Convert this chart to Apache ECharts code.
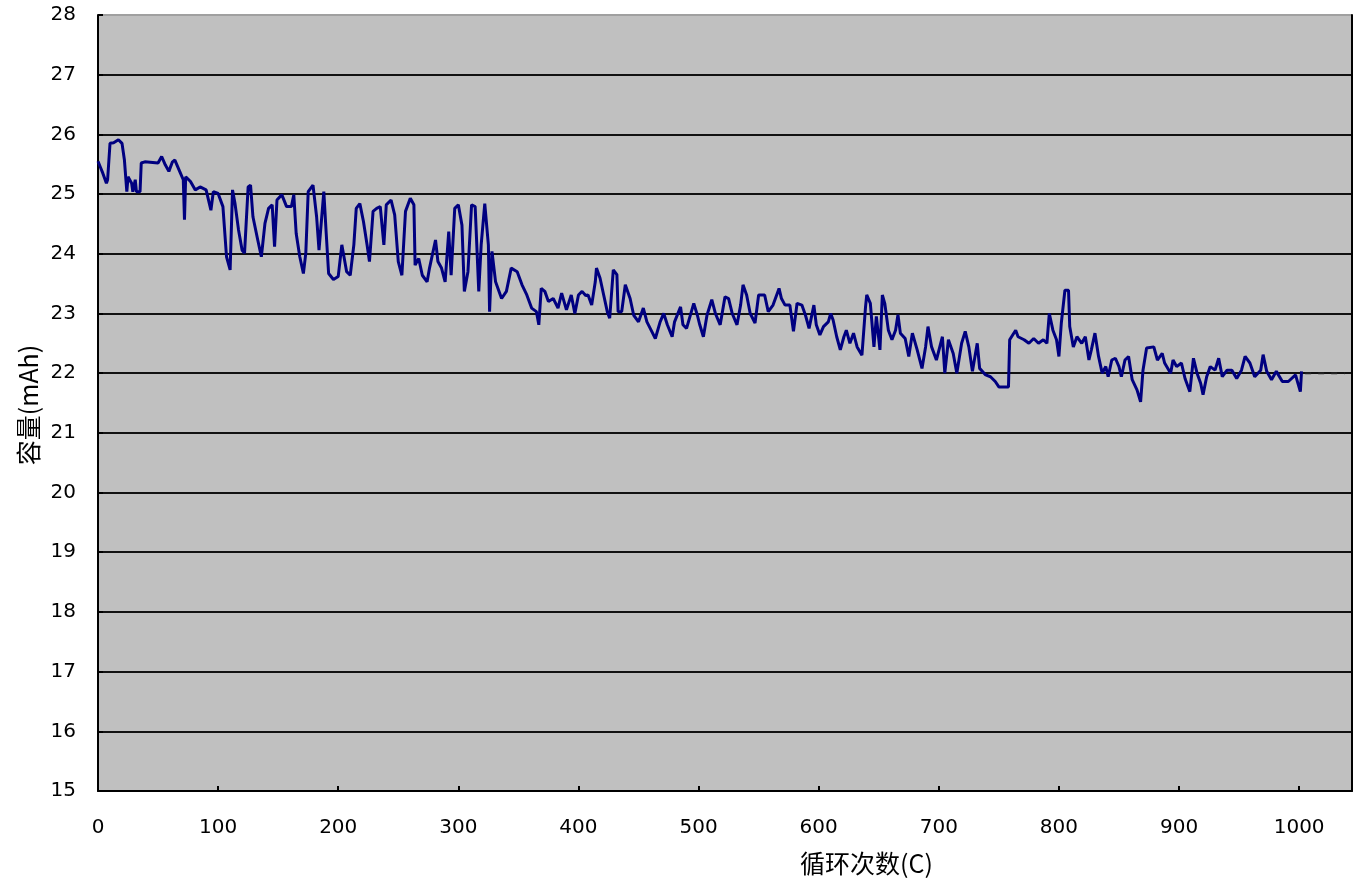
<!DOCTYPE html>
<html>
<head>
<meta charset="utf-8">
<script src="https://cdn.jsdelivr.net/npm/echarts@6/dist/echarts.min.js"></script>
<style>html,body{margin:0;padding:0;background:#fff}#c{width:1356px;height:883px}</style>
</head>
<body>
<div id="c"></div>
<script>
const cycles = [0,2,4,7,8,10,13,17,20,22,24,25,28,29,31,32,35,36,39,50,53,56,59,62,64,68,71,72,73,77,81,85,90,94,96,100,104,107,110,112,114,117,120,122,125,127,129,133,136,139,142,145,147,149,153,157,161,163,165,168,171,173,175,179,182,184,188,190,192,196,200,203,
207,210,213,215,218,221,224,226,229,232,235,238,240,244,247,250,253,256,260,263,264,267,270,274,276,281,283,286,289,292,294,297,300,303,305,308,311,314,317,319,322,325,326,328,331,333,336,340,344,349,353,357,361,365,367,369,372,375,379,383,386,390,394,397,400,403,
406,408,411,414,415,418,421,424,426,429,432,433,436,439,443,446,450,454,457,461,464,468,471,474,478,480,485,487,490,496,499,501,504,507,511,514,518,522,525,528,532,535,537,540,543,547,550,555,558,562,567,569,572,576,579,582,586,589,592,596,598,601,604,608,
610,612,615,618,621,623,626,629,632,636,639,640,643,646,648,651,653,655,658,661,664,666,668,672,675,678,682,686,689,691,694,698,703,705,708,712,715,719,722,725,728,732,734,739,743,747,750,758,759,764,766,771,775,779,783,787,790,792,795,798,800,802,805,808,809,812,815,
819,822,825,827,830,833,836,839,841,844,847,850,852,855,858,861,865,868,870,873,879,882,886,888,893,895,898,902,905,909,912,915,918,920,923,926,930,933,936,940,944,948,952,955,959,963,968,970,973,977,981,986,991,997,999,1001,1002];
const capacity = [25.55,25.45,25.35,25.18,25.24,25.85,25.86,25.91,25.85,25.57,25.04,25.29,25.18,25.04,25.24,25.04,25.04,25.52,25.54,25.52,25.63,25.49,25.38,25.54,25.57,25.38,25.24,24.57,25.29,25.21,25.07,25.12,25.07,24.73,25.04,25.01,24.79,23.95,23.73,25.07,24.85,24.40,24.06,24.01,25.12,25.15,24.62,24.23,23.95,24.51,24.76,24.82,24.12,24.90,24.99,24.79,24.79,24.99,24.34,23.95,23.67,24.01,25.04,25.15,24.62,24.06,25.04,24.34,23.67,23.57,23.62,24.15,
23.70,23.64,24.15,24.76,24.84,24.54,24.15,23.87,24.71,24.76,24.79,24.15,24.82,24.90,24.65,23.87,23.64,24.71,24.93,24.82,23.81,23.92,23.64,23.53,23.76,24.23,23.87,23.76,23.53,24.37,23.64,24.76,24.82,24.48,23.37,23.70,24.82,24.79,23.37,24.15,24.84,24.15,23.03,24.04,23.53,23.42,23.25,23.37,23.76,23.70,23.48,23.31,23.09,23.03,22.81,23.42,23.37,23.20,23.25,23.09,23.34,23.06,23.31,23.00,23.31,23.37,
23.30,23.31,23.14,23.53,23.76,23.59,23.31,23.03,22.92,23.73,23.65,23.03,23.03,23.48,23.25,22.97,22.86,23.09,22.86,22.70,22.58,22.86,23.00,22.81,22.61,22.86,23.11,22.81,22.75,23.17,22.97,22.81,22.61,22.97,23.23,23.00,22.81,23.28,23.25,23.00,22.81,23.14,23.48,23.31,23.00,22.84,23.31,23.31,23.03,23.14,23.42,23.25,23.14,23.14,22.70,23.17,23.14,22.97,22.75,23.14,22.81,22.64,22.78,22.86,
23.00,22.89,22.61,22.39,22.61,22.72,22.50,22.67,22.44,22.30,23.11,23.31,23.17,22.44,22.95,22.39,23.31,23.17,22.72,22.56,22.72,22.98,22.67,22.58,22.28,22.67,22.39,22.08,22.44,22.78,22.44,22.22,22.61,22.00,22.56,22.33,22.00,22.50,22.70,22.44,22.03,22.50,22.08,21.97,21.94,21.86,21.77,21.77,22.56,22.72,22.61,22.56,22.50,22.58,22.50,22.56,22.50,23.00,22.72,22.56,22.28,22.84,23.39,23.39,22.78,22.44,22.61,
22.50,22.61,22.22,22.39,22.67,22.28,22.00,22.11,21.94,22.22,22.25,22.11,21.94,22.22,22.28,21.89,21.72,21.52,22.05,22.42,22.44,22.22,22.33,22.17,22.00,22.22,22.11,22.17,21.91,21.69,22.25,22.00,21.83,21.64,21.94,22.11,22.05,22.25,21.94,22.05,22.05,21.91,22.05,22.28,22.17,21.94,22.05,22.31,22.03,21.89,22.03,21.86,21.86,21.97,21.83,21.69,22.03];
const tailCycles = [1005, 1038];
const tailCapacity = [22.0, 22.0];
const xTicks = [0,100,200,300,400,500,600,700,800,900,1000];
const yTicks = [15,16,17,18,19,20,21,22,23,24,25,26,27,28];
const xTitle = '循环次数(C)';
const yTitle = '容量(mAh)';

const chart = echarts.init(document.getElementById('c'), null, {renderer: 'canvas'});
const mainData = cycles.map((c, i) => [c, capacity[i]]);
const tailData = tailCycles.map((c, i) => [c, tailCapacity[i]]);
const lblFont = {fontFamily: 'DejaVu Sans', fontSize: 20, color: '#000'};
const splitColors = yTicks.map((v, i) => i === yTicks.length - 1 ? '#a0a0a0' : '#111');
chart.setOption({
  animation: false,
  backgroundColor: '#fff',
  grid: {left: 98, right: 4, top: 15, bottom: 92, show: true, backgroundColor: '#c0c0c0', borderColor: '#a0a0a0', borderWidth: 1},
  xAxis: {
    type: 'value', min: 0, max: 1044, interval: 100,
    axisLine: {show: true, lineStyle: {color: '#000', width: 2}},
    axisTick: {show: true, inside: true, length: 5, lineStyle: {color: '#000', width: 2}},
    axisLabel: Object.assign({margin: 27, showMaxLabel: false,
      formatter: v => xTicks.includes(v) ? String(v) : ''}, lblFont),
    splitLine: {show: false}
  },
  yAxis: [{
    type: 'value', min: 15, max: 28, interval: 1,
    axisLine: {show: true, lineStyle: {color: '#000', width: 2}},
    axisTick: {show: true, inside: true, length: 5, lineStyle: {color: '#000', width: 2}},
    axisLabel: Object.assign({margin: 22, formatter: v => yTicks.includes(v) ? String(v) : ''}, lblFont),
    splitLine: {show: true, lineStyle: {color: splitColors, width: 2}}
  }, {
    type: 'value', min: 15, max: 28, interval: 1, position: 'right',
    axisLine: {show: true, lineStyle: {color: '#000', width: 2}},
    axisTick: {show: false}, axisLabel: {show: false}, splitLine: {show: false}
  }],
  series: [{
    type: 'line', data: mainData, showSymbol: false, symbol: 'none',
    lineStyle: {color: '#000080', width: 3}, z: 5
  }, {
    type: 'line', data: tailData, showSymbol: false, symbol: 'none',
    lineStyle: {color: '#222', width: 2, type: [6, 7]}, z: 4
  }],
  graphic: [{
    type: 'text', left: 800, top: 851,
    style: {text: xTitle, font: '25px "Noto Sans CJK SC"', fill: '#000'}
  }, {
    type: 'text', x: 28, y: 405, rotation: Math.PI / 2,
    style: {text: yTitle, font: '25px "Noto Sans CJK SC"', fill: '#000', align: 'center', verticalAlign: 'middle'}
  }]
});
</script>
</body>
</html>
